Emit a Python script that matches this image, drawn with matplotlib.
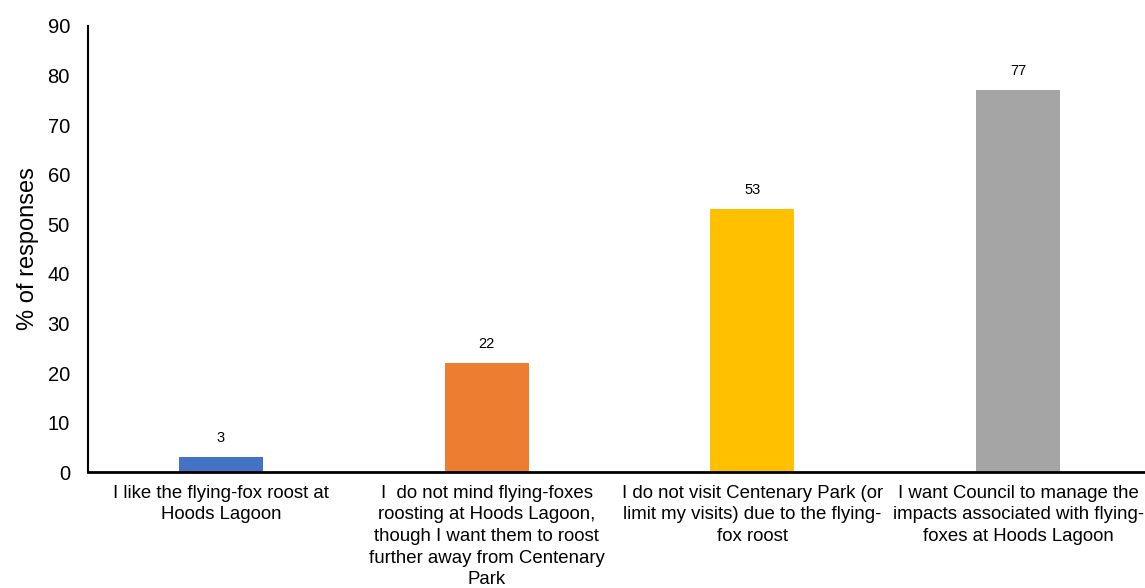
import matplotlib
matplotlib.use("Agg")
import matplotlib.pyplot as plt

categories = [
    "I like the flying-fox roost at\nHoods Lagoon",
    "I  do not mind flying-foxes\nroosting at Hoods Lagoon,\nthough I want them to roost\nfurther away from Centenary\nPark",
    "I do not visit Centenary Park (or\nlimit my visits) due to the flying-\nfox roost",
    "I want Council to manage the\nimpacts associated with flying-\nfoxes at Hoods Lagoon",
]
values = [3, 22, 53, 77]
colors = ["#4472C4", "#ED7D31", "#FFC000", "#A5A5A5"]
yticks = [0, 10, 20, 30, 40, 50, 60, 70, 80, 90]

plt.rcParams["font.family"] = ["Liberation Sans", "DejaVu Sans"]

fig = plt.figure(figsize=(11.45, 5.88), dpi=100)
ax = fig.add_axes([0.0769, 0.197, 0.9284, 0.7589])

x = range(len(categories))
bars = ax.bar(x, values, width=0.316, color=colors, zorder=2)

for b, v in zip(bars, values):
    ax.annotate(f"{v}", (b.get_x() + b.get_width() / 2, v),
                xytext=(0, 9), textcoords="offset points",
                ha="center", va="bottom", fontsize=10.5)

ax.set_xlim(-0.5, len(categories) - 0.5)
ax.set_ylim(0, 90)
ax.set_yticks(yticks)
ax.set_yticklabels([str(t) for t in yticks], fontsize=14.5)
ax.set_xticks(list(x))
ax.set_xticklabels(categories, fontsize=13.4, linespacing=1.36)
ax.tick_params(axis="both", length=0)
ax.tick_params(axis="y", pad=13)
ax.tick_params(axis="x", pad=9)

for side in ["top", "right"]:
    ax.spines[side].set_visible(False)
ax.spines["left"].set_linewidth(1.5)
ax.spines["bottom"].set_linewidth(2)

ax.set_ylabel("% of responses", fontsize=17, labelpad=6)

fig.savefig("out.png", dpi=100)
